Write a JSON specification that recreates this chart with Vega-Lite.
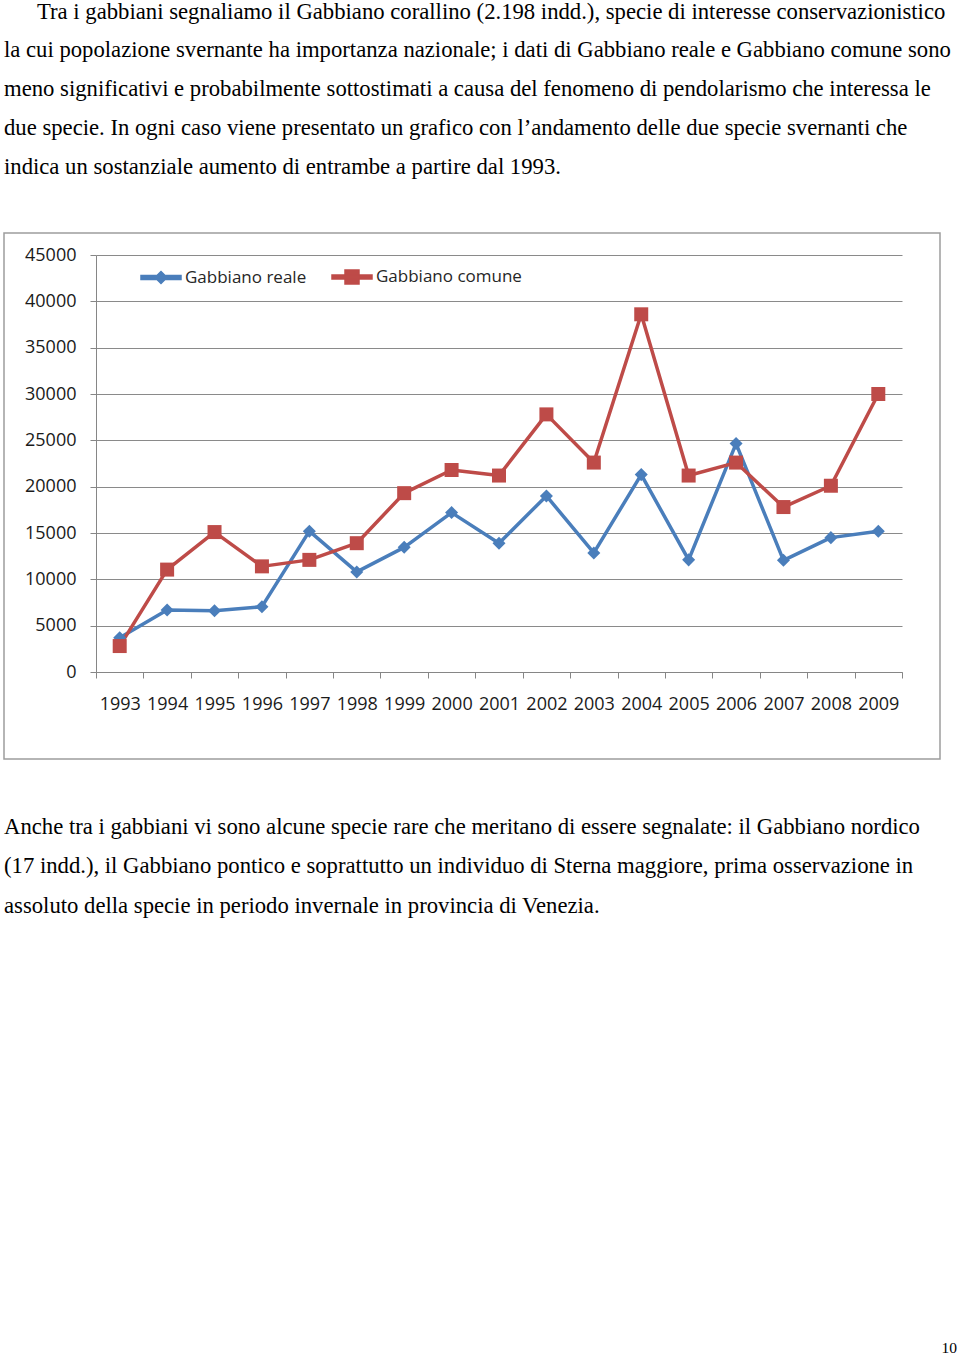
{
  "$schema": "https://vega.github.io/schema/vega-lite/v6.json",
  "background": "white",
  "padding": {"left": 3, "top": 0, "right": 0, "bottom": 0},
  "bounds": "flush",
  "spacing": 0,
  "config": {"view": {"stroke": null}},
  "resolve": {
    "scale": {"color": "independent", "shape": "independent"},
    "legend": {"color": "independent", "shape": "independent"}
  },
  "datasets": {
    "testo_sopra": [
      {"riga": 0, "t": "Tra i gabbiani segnaliamo il Gabbiano corallino (2.198 indd.), specie di interesse conservazionistico"},
      {"riga": 1, "t": "la cui popolazione svernante ha importanza nazionale; i dati di Gabbiano reale e Gabbiano comune sono"},
      {"riga": 2, "t": "meno significativi e probabilmente sottostimati a causa del fenomeno di pendolarismo che interessa le"},
      {"riga": 3, "t": "due specie. In ogni caso viene presentato un grafico con l’andamento delle due specie svernanti che"},
      {"riga": 4, "t": "indica un sostanziale aumento di entrambe a partire dal 1993."}
    ],
    "testo_sotto": [
      {"riga": 0, "t": "Anche tra i gabbiani vi sono alcune specie rare che meritano di essere segnalate: il Gabbiano nordico"},
      {"riga": 1, "t": "(17 indd.), il Gabbiano pontico e soprattutto un individuo di Sterna maggiore, prima osservazione in"},
      {"riga": 2, "t": "assoluto della specie in periodo invernale in provincia di Venezia."}
    ],
    "pagina": [{"t": "10"}],
    "serie": [
      {"anno": "1993", "specie": "Gabbiano reale", "n": 3700},
      {"anno": "1994", "specie": "Gabbiano reale", "n": 6700},
      {"anno": "1995", "specie": "Gabbiano reale", "n": 6600},
      {"anno": "1996", "specie": "Gabbiano reale", "n": 7050},
      {"anno": "1997", "specie": "Gabbiano reale", "n": 15200},
      {"anno": "1998", "specie": "Gabbiano reale", "n": 10800},
      {"anno": "1999", "specie": "Gabbiano reale", "n": 13450},
      {"anno": "2000", "specie": "Gabbiano reale", "n": 17200},
      {"anno": "2001", "specie": "Gabbiano reale", "n": 13900},
      {"anno": "2002", "specie": "Gabbiano reale", "n": 19000},
      {"anno": "2003", "specie": "Gabbiano reale", "n": 12850},
      {"anno": "2004", "specie": "Gabbiano reale", "n": 21300},
      {"anno": "2005", "specie": "Gabbiano reale", "n": 12100},
      {"anno": "2006", "specie": "Gabbiano reale", "n": 24650},
      {"anno": "2007", "specie": "Gabbiano reale", "n": 12050},
      {"anno": "2008", "specie": "Gabbiano reale", "n": 14500},
      {"anno": "2009", "specie": "Gabbiano reale", "n": 15200},
      {"anno": "1993", "specie": "Gabbiano comune", "n": 2800},
      {"anno": "1994", "specie": "Gabbiano comune", "n": 11050},
      {"anno": "1995", "specie": "Gabbiano comune", "n": 15100},
      {"anno": "1996", "specie": "Gabbiano comune", "n": 11400},
      {"anno": "1997", "specie": "Gabbiano comune", "n": 12100},
      {"anno": "1998", "specie": "Gabbiano comune", "n": 13900},
      {"anno": "1999", "specie": "Gabbiano comune", "n": 19300},
      {"anno": "2000", "specie": "Gabbiano comune", "n": 21800},
      {"anno": "2001", "specie": "Gabbiano comune", "n": 21200},
      {"anno": "2002", "specie": "Gabbiano comune", "n": 27800},
      {"anno": "2003", "specie": "Gabbiano comune", "n": 22600},
      {"anno": "2004", "specie": "Gabbiano comune", "n": 38600},
      {"anno": "2005", "specie": "Gabbiano comune", "n": 21200},
      {"anno": "2006", "specie": "Gabbiano comune", "n": 22600},
      {"anno": "2007", "specie": "Gabbiano comune", "n": 17800},
      {"anno": "2008", "specie": "Gabbiano comune", "n": 20100},
      {"anno": "2009", "specie": "Gabbiano comune", "n": 30000}
    ]
  },
  "vconcat": [
    {
      "width": 957,
      "height": 233,
      "data": {"name": "testo_sopra"},
      "encoding": {
        "x": {"datum": 0, "type": "quantitative", "scale": {"domain": [0, 1], "nice": false}, "axis": null},
        "y": {"field": "riga", "type": "quantitative", "scale": {"domain": [-0.4781, 5.5116], "reverse": true, "nice": false, "zero": false}, "axis": null},
        "text": {"field": "t", "type": "nominal"}
      },
      "layer": [
        {
          "transform": [{"filter": "datum.riga === 0"}],
          "mark": {"type": "text", "align": "left", "baseline": "alphabetic", "font": "Liberation Serif", "fontSize": 22.7, "color": "#000000", "dx": 33}
        },
        {
          "transform": [{"filter": "datum.riga > 0"}],
          "mark": {"type": "text", "align": "left", "baseline": "alphabetic", "font": "Liberation Serif", "fontSize": 22.7, "color": "#000000"}
        }
      ]
    },
    {
      "width": 936,
      "height": 526,
      "view": {"stroke": "#9d9d9d", "strokeWidth": 1.5},
      "data": {"name": "serie"},
      "encoding": {
        "x": {
          "field": "anno", "type": "ordinal",
          "scale": {"type": "band", "range": [92, 898], "paddingInner": 0, "paddingOuter": 0},
          "axis": {
            "title": null, "orient": "bottom", "offset": -87, "tickBand": "extent", "tickSize": 6,
            "tickColor": "#868686", "domainColor": "#868686", "labelAngle": 0,
            "labelFont": "Open Sans", "labelFontSize": 18, "labelColor": "#1a1a1a",
            "labelPadding": 17, "labelOverlap": false, "labelFlush": false, "grid": false
          }
        },
        "y": {
          "field": "n", "type": "quantitative",
          "scale": {"domain": [0, 45000], "range": [439, 22], "nice": false},
          "axis": {
            "title": null, "orient": "left", "offset": -92,
            "values": [0, 5000, 10000, 15000, 20000, 25000, 30000, 35000, 40000, 45000],
            "format": "d", "tickSize": 6, "tickColor": "#868686", "domainColor": "#868686",
            "grid": true, "gridColor": "#8a8a8a", "gridWidth": 1,
            "labelFont": "Open Sans", "labelFontSize": 18, "labelColor": "#1a1a1a",
            "labelPadding": 14, "labelFlush": false, "labelOverlap": false
          }
        },
        "color": {
          "field": "specie", "type": "nominal",
          "scale": {"domain": ["Gabbiano reale", "Gabbiano comune"], "range": ["#4a7ebb", "#be4b48"]},
          "legend": {
            "orient": "none", "legendX": 136, "legendY": 23, "direction": "horizontal", "title": null,
            "symbolSize": 1600, "symbolOpacity": 1, "labelFont": "Open Sans", "labelFontSize": 17, "labelColor": "#262626",
            "labelOffset": 3, "columnPadding": 22
          }
        }
      },
      "layer": [
        {"mark": {"type": "line", "strokeWidth": 3.5, "strokeJoin": "round"}},
        {
          "transform": [{"filter": "datum.specie === 'Gabbiano reale'"}],
          "mark": {"type": "point", "filled": true, "size": 196, "opacity": 1, "shape": "M0,-0.93L0.93,0L0,0.93L-0.93,0Z"}
        },
        {
          "transform": [{"filter": "datum.specie === 'Gabbiano comune'"}],
          "mark": {"type": "point", "filled": true, "size": 196, "opacity": 1, "shape": "square"}
        },
        {
          "transform": [{"filter": "datum.n < 0"}],
          "mark": {"type": "point", "filled": true, "size": 1600, "opacity": 1},
          "encoding": {
            "shape": {
              "field": "specie", "type": "nominal",
              "scale": {"domain": ["Gabbiano reale", "Gabbiano comune"], "range": ["M-1,-0.1H1V0.1H-1ZM0,-0.3L0.3,0L0,0.3L-0.3,0Z", "M-1,-0.1H1V0.1H-1ZM-0.35,-0.35H0.35V0.35H-0.35Z"]},
              "legend": null
            }
          }
        }
      ]
    },
    {
      "width": 953,
      "height": 594,
      "resolve": {"scale": {"y": "independent"}},
      "layer": [
        {
          "data": {"name": "testo_sotto"},
          "mark": {"type": "text", "align": "left", "baseline": "alphabetic", "font": "Liberation Serif", "fontSize": 22.7, "color": "#000000"},
          "encoding": {
            "x": {"datum": 0, "type": "quantitative", "scale": {"domain": [0, 1], "nice": false}, "axis": null},
            "y": {"field": "riga", "type": "quantitative", "scale": {"domain": [-1.8861, 13.1519], "reverse": true, "nice": false, "zero": false}, "axis": null},
            "text": {"field": "t", "type": "nominal"}
          }
        },
        {
          "data": {"name": "pagina"},
          "mark": {"type": "text", "align": "right", "baseline": "alphabetic", "font": "Liberation Serif", "fontSize": 15.5, "color": "#000000"},
          "encoding": {
            "x": {"datum": 1, "type": "quantitative", "scale": {"domain": [0, 1], "nice": false}, "axis": null},
            "y": {"datum": 0, "type": "quantitative", "scale": {"domain": [0, 1], "nice": false}, "axis": null},
            "text": {"field": "t", "type": "nominal"}
          }
        }
      ]
    }
  ]
}
